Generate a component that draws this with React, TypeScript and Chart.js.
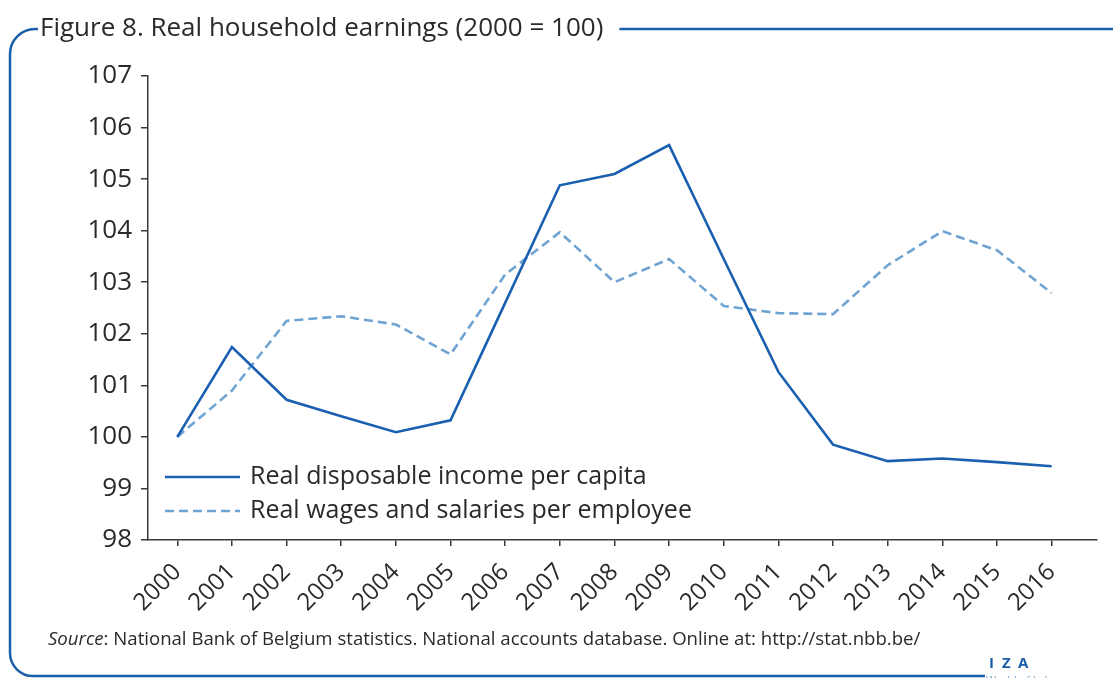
import React, { useEffect, useRef } from "react";
import { Chart, registerables } from "chart.js";

Chart.register(...registerables);

const years: number[] = [2000, 2001, 2002, 2003, 2004, 2005, 2006, 2007, 2008, 2009, 2010, 2011, 2012, 2013, 2014, 2015, 2016];
const incomePerCapita: number[] = [100.0, 101.74, 100.72, 100.4, 100.09, 100.32, 102.6, 104.88, 105.1, 105.66, 103.45, 101.26, 99.85, 99.53, 99.58, 99.51, 99.43];
const wagesPerEmployee: number[] = [100.0, 100.9, 102.25, 102.34, 102.18, 101.6, 103.15, 103.97, 103.0, 103.45, 102.54, 102.4, 102.38, 103.33, 103.99, 103.62, 102.79];
const yTicks: number[] = [98, 99, 100, 101, 102, 103, 104, 105, 106, 107];
const seriesLabels: string[] = ["Real disposable income per capita", "Real wages and salaries per employee"];
const titleText = "Figure 8. Real household earnings (2000 = 100)";
const sourceItalic = "Source";
const sourceRest = ": National Bank of Belgium statistics. National accounts database. Online at: http://stat.nbb.be/";

const FONT = '"Open Sans", "Liberation Sans", sans-serif';
const TEXT = "#2a2a2a";
const FRAME = "#1c5fa9";
const DARK = "#1a5fb0";
const LIGHT = "#6ea3d2";

const decorPlugin = {
  id: "decor",
  afterDraw(chart: any) {
    const ctx = chart.ctx as CanvasRenderingContext2D;
    const W = chart.width;
    ctx.save();
    // frame
    ctx.strokeStyle = FRAME;
    ctx.lineWidth = 2.5;
    const topY = 29;
    const leftX = 10;
    const r = 25;
    ctx.beginPath();
    ctx.moveTo(38, topY);
    ctx.lineTo(leftX + r, topY);
    ctx.arcTo(leftX, topY, leftX, topY + r, r);
    ctx.lineTo(leftX, 676 - 23);
    ctx.arcTo(leftX, 676, leftX + 23, 676, 23);
    ctx.lineTo(985, 676);
    ctx.stroke();
    // title
    ctx.fillStyle = TEXT;
    ctx.font = `26px ${FONT}`;
    ctx.textBaseline = "middle";
    ctx.textAlign = "left";
    ctx.fillText(titleText, 40, topY);
    const tw = ctx.measureText(titleText).width;
    ctx.beginPath();
    ctx.moveTo(40 + tw + 16, topY);
    ctx.lineTo(W, topY);
    ctx.stroke();
    // legend
    const ds = chart.data.datasets;
    const legendY = [477, 511];
    ds.forEach((d: any, i: number) => {
      ctx.strokeStyle = d.borderColor;
      ctx.lineWidth = d.borderWidth;
      ctx.setLineDash(d.borderDash || []);
      ctx.beginPath();
      ctx.moveTo(165, legendY[i]);
      ctx.lineTo(240, legendY[i]);
      ctx.stroke();
      ctx.setLineDash([]);
      ctx.fillStyle = TEXT;
      ctx.font = `25px ${FONT}`;
      ctx.textBaseline = "middle";
      ctx.fillText(d.label, 250, legendY[i]);
    });
    // source
    ctx.fillStyle = TEXT;
    ctx.textBaseline = "middle";
    ctx.font = `italic 18.6px ${FONT}`;
    ctx.fillText(sourceItalic, 48, 640);
    const sw = ctx.measureText(sourceItalic).width;
    ctx.font = `18.6px ${FONT}`;
    ctx.fillText(sourceRest, 48 + sw, 640);
    // IZA
    ctx.fillStyle = FRAME;
    ctx.font = `bold 15px ${FONT}`;
    ctx.fillText("I", 989, 664);
    ctx.fillText("Z", 1002, 664);
    ctx.fillText("A", 1018, 664);
    ctx.fillStyle = "#7aa8d6";
    ctx.font = `11px ${FONT}`;
    ctx.textBaseline = "top";
    ctx.fillText("World of Labor", 986, 675);
    ctx.restore();
  },
};

export default function App() {
  const ref = useRef<HTMLCanvasElement | null>(null);
  useEffect(() => {
    if (!ref.current) return;
    const chart = new Chart(ref.current, {
      type: "line",
      data: {
        datasets: [
          {
            label: seriesLabels[0],
            data: years.map((y, i) => ({ x: y, y: incomePerCapita[i] })),
            borderColor: DARK,
            borderWidth: 2.6,
            pointRadius: 0,
            tension: 0,
            fill: false,
          },
          {
            label: seriesLabels[1],
            data: years.map((y, i) => ({ x: y, y: wagesPerEmployee[i] })),
            borderColor: LIGHT,
            borderWidth: 2.6,
            borderDash: [9, 5],
            pointRadius: 0,
            tension: 0,
            fill: false,
          },
        ],
      },
      options: {
        animation: false,
        responsive: false,
        maintainAspectRatio: false,
        layout: { padding: { left: 88, right: 16, top: 76, bottom: 38 } },
        plugins: { legend: { display: false }, tooltip: { enabled: false }, title: { display: false } },
        scales: {
          x: {
            type: "linear",
            min: 1999.464,
            max: 2016.83,
            afterBuildTicks: (scale: any) => {
              scale.ticks = years.map((v) => ({ value: v }));
            },
            afterFit: (scale: any) => {
              scale.height = 100;
            },
            grid: { drawOnChartArea: false, drawTicks: true, tickLength: 6, color: "#3a3a3a", lineWidth: 1.5 },
            border: { color: "#3a3a3a", width: 1.5 },
            ticks: {
              autoSkip: false,
              minRotation: 45,
              maxRotation: 45,
              padding: 12,
              color: TEXT,
              font: { family: FONT, size: 24 },
              callback: (v: any) => String(v),
            },
          },
          y: {
            min: 98,
            max: 107,
            afterBuildTicks: (scale: any) => {
              scale.ticks = yTicks.map((v) => ({ value: v }));
            },
            afterFit: (scale: any) => {
              scale.width = 60;
            },
            grid: { drawOnChartArea: false, drawTicks: true, tickLength: 7, color: "#3a3a3a", lineWidth: 1.5 },
            border: { color: "#3a3a3a", width: 1.5 },
            ticks: {
              padding: 9,
              color: TEXT,
              font: { family: FONT, size: 26 },
              callback: (v: any) => String(v),
            },
          },
        },
      },
      plugins: [decorPlugin],
    } as any);
    return () => chart.destroy();
  }, []);
  return (
    <div style={{ position: "fixed", left: 0, top: 0, width: 1113, height: 678, background: "#fff" }}>
      <canvas ref={ref} width={1113} height={678} style={{ width: 1113, height: 678, display: "block" }} />
    </div>
  );
}
